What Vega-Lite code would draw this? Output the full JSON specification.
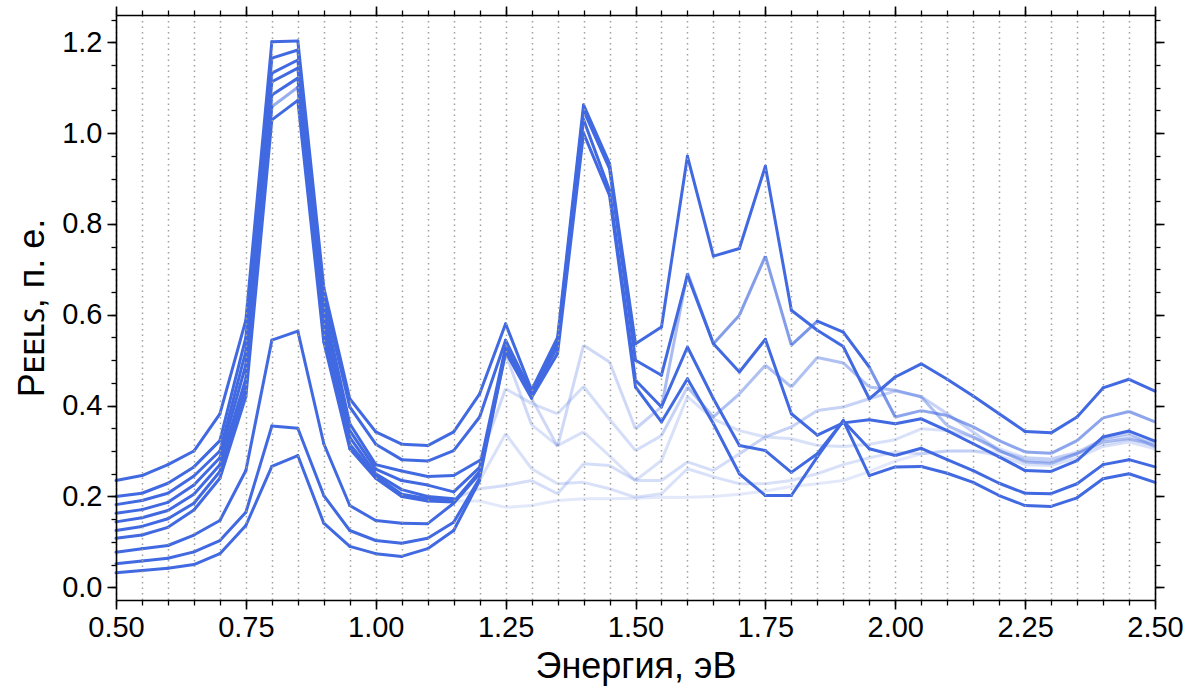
{
 "$schema": "https://vega.github.io/schema/vega-lite/v6.json",
 "width": 1039, "height": 585,
 "autosize": {"type": "none"},
 "padding": {"left": 116, "top": 15, "right": 44, "bottom": 91},
 "background": "white",
 "config": {"view": {"stroke": null}, "font": "Arial, Liberation Sans, sans-serif", "axis": {"labelFont": "Arial, Liberation Sans, sans-serif", "titleFont": "Arial, Liberation Sans, sans-serif"}},
 "data": {"values": [
{"s":"A","e":0.5,"p":0.235,"w":1},{"s":"A","e":0.55,"p":0.246,"w":1},{"s":"A","e":0.6,"p":0.27,"w":1},{"s":"A","e":0.65,"p":0.3,"w":1},{"s":"A","e":0.7,"p":0.382,"w":1},{"s":"A","e":0.75,"p":0.588,"w":1},{"s":"A","e":0.8,"p":1.201,"w":1},{"s":"A","e":0.85,"p":1.203,"w":1},{"s":"A","e":0.9,"p":0.66,"w":1},{"s":"A","e":0.95,"p":0.415,"w":1},{"s":"A","e":1,"p":0.342,"w":1},{"s":"A","e":1.05,"p":0.315,"w":1},{"s":"A","e":1.1,"p":0.312,"w":1},{"s":"A","e":1.15,"p":0.342,"w":1},{"s":"A","e":1.2,"p":0.426,"w":1},{"s":"A","e":1.25,"p":0.58,"w":1},{"s":"A","e":1.3,"p":0.434,"w":1},{"s":"A","e":1.35,"p":0.55,"w":1},{"s":"A","e":1.4,"p":1.062,"w":1},{"s":"A","e":1.45,"p":0.933,"w":1},{"s":"A","e":1.5,"p":0.536,"w":1},{"s":"A","e":1.55,"p":0.573,"w":1},{"s":"A","e":1.6,"p":0.949,"w":1},{"s":"A","e":1.65,"p":0.729,"w":1},{"s":"A","e":1.7,"p":0.746,"w":1},{"s":"A","e":1.75,"p":0.927,"w":1},{"s":"A","e":1.8,"p":0.61,"w":1},{"s":"A","e":1.85,"p":0.566,"w":1},{"s":"A","e":1.9,"p":0.53,"w":1},{"s":"A","e":1.95,"p":0.415,"w":1},{"s":"A","e":2,"p":0.463,"w":1},{"s":"A","e":2.05,"p":0.492,"w":1},{"s":"A","e":2.1,"p":0.458,"w":1},{"s":"A","e":2.15,"p":0.421,"w":1},{"s":"A","e":2.2,"p":0.382,"w":1},{"s":"A","e":2.25,"p":0.343,"w":1},{"s":"A","e":2.3,"p":0.34,"w":1},{"s":"A","e":2.35,"p":0.375,"w":1},{"s":"A","e":2.4,"p":0.439,"w":1},{"s":"A","e":2.45,"p":0.458,"w":1},{"s":"A","e":2.5,"p":0.432,"w":1},
{"s":"B","e":0.5,"p":0.2,"w":1},{"s":"B","e":0.55,"p":0.207,"w":1},{"s":"B","e":0.6,"p":0.229,"w":1},{"s":"B","e":0.65,"p":0.265,"w":1},{"s":"B","e":0.7,"p":0.323,"w":1},{"s":"B","e":0.75,"p":0.55,"w":1},{"s":"B","e":0.8,"p":1.165,"w":1},{"s":"B","e":0.85,"p":1.183,"w":1},{"s":"B","e":0.9,"p":0.64,"w":1},{"s":"B","e":0.95,"p":0.397,"w":1},{"s":"B","e":1,"p":0.315,"w":1},{"s":"B","e":1.05,"p":0.281,"w":1},{"s":"B","e":1.1,"p":0.278,"w":1},{"s":"B","e":1.15,"p":0.301,"w":1},{"s":"B","e":1.2,"p":0.375,"w":1},{"s":"B","e":1.25,"p":0.544,"w":1},{"s":"B","e":1.3,"p":0.428,"w":1},{"s":"B","e":1.35,"p":0.54,"w":1},{"s":"B","e":1.4,"p":1.05,"w":1},{"s":"B","e":1.45,"p":0.922,"w":1},{"s":"B","e":1.5,"p":0.5,"w":1},{"s":"B","e":1.55,"p":0.467,"w":1},{"s":"B","e":1.6,"p":0.687,"w":1},{"s":"B","e":1.65,"p":0.536,"w":1},{"s":"B","e":1.7,"p":0.474,"w":1},{"s":"B","e":1.75,"p":0.546,"w":1},{"s":"B","e":1.8,"p":0.382,"w":1},{"s":"B","e":1.85,"p":0.335,"w":1},{"s":"B","e":1.9,"p":0.362,"w":1},{"s":"B","e":1.95,"p":0.369,"w":1},{"s":"B","e":2,"p":0.36,"w":1},{"s":"B","e":2.05,"p":0.371,"w":1},{"s":"B","e":2.1,"p":0.345,"w":1},{"s":"B","e":2.15,"p":0.316,"w":1},{"s":"B","e":2.2,"p":0.287,"w":1},{"s":"B","e":2.25,"p":0.257,"w":1},{"s":"B","e":2.3,"p":0.255,"w":1},{"s":"B","e":2.35,"p":0.279,"w":1},{"s":"B","e":2.4,"p":0.331,"w":1},{"s":"B","e":2.45,"p":0.344,"w":1},{"s":"B","e":2.5,"p":0.322,"w":1},
{"s":"C","e":0.5,"p":0.163,"w":1},{"s":"C","e":0.55,"p":0.171,"w":1},{"s":"C","e":0.6,"p":0.187,"w":1},{"s":"C","e":0.65,"p":0.225,"w":1},{"s":"C","e":0.7,"p":0.285,"w":1},{"s":"C","e":0.75,"p":0.49,"w":1},{"s":"C","e":0.8,"p":1.113,"w":1},{"s":"C","e":0.85,"p":1.143,"w":1},{"s":"C","e":0.9,"p":0.6,"w":1},{"s":"C","e":0.95,"p":0.345,"w":1},{"s":"C","e":1,"p":0.26,"w":1},{"s":"C","e":1.05,"p":0.235,"w":1},{"s":"C","e":1.1,"p":0.225,"w":1},{"s":"C","e":1.15,"p":0.21,"w":1},{"s":"C","e":1.2,"p":0.264,"w":1},{"s":"C","e":1.25,"p":0.53,"w":1},{"s":"C","e":1.3,"p":0.422,"w":1},{"s":"C","e":1.35,"p":0.53,"w":1},{"s":"C","e":1.4,"p":1.03,"w":1},{"s":"C","e":1.45,"p":0.874,"w":1},{"s":"C","e":1.5,"p":0.456,"w":1},{"s":"C","e":1.55,"p":0.397,"w":1},{"s":"C","e":1.6,"p":0.529,"w":1},{"s":"C","e":1.65,"p":0.415,"w":1},{"s":"C","e":1.7,"p":0.312,"w":1},{"s":"C","e":1.75,"p":0.301,"w":1},{"s":"C","e":1.8,"p":0.253,"w":1},{"s":"C","e":1.85,"p":0.294,"w":1},{"s":"C","e":1.9,"p":0.366,"w":1},{"s":"C","e":1.95,"p":0.305,"w":1},{"s":"C","e":2,"p":0.29,"w":1},{"s":"C","e":2.05,"p":0.306,"w":1},{"s":"C","e":2.1,"p":0.281,"w":1},{"s":"C","e":2.15,"p":0.257,"w":1},{"s":"C","e":2.2,"p":0.229,"w":1},{"s":"C","e":2.25,"p":0.207,"w":1},{"s":"C","e":2.3,"p":0.206,"w":1},{"s":"C","e":2.35,"p":0.228,"w":1},{"s":"C","e":2.4,"p":0.27,"w":1},{"s":"C","e":2.45,"p":0.281,"w":1},{"s":"C","e":2.5,"p":0.265,"w":1},
{"s":"D","e":0.5,"p":0.077,"w":1},{"s":"D","e":0.55,"p":0.085,"w":1},{"s":"D","e":0.6,"p":0.092,"w":1},{"s":"D","e":0.65,"p":0.115,"w":1},{"s":"D","e":0.7,"p":0.147,"w":1},{"s":"D","e":0.75,"p":0.257,"w":1},{"s":"D","e":0.8,"p":0.544,"w":1},{"s":"D","e":0.85,"p":0.564,"w":1},{"s":"D","e":0.9,"p":0.316,"w":1},{"s":"D","e":0.95,"p":0.18,"w":1},{"s":"D","e":1,"p":0.147,"w":1},{"s":"D","e":1.05,"p":0.141,"w":1},{"s":"D","e":1.1,"p":0.14,"w":1},{"s":"D","e":1.15,"p":0.185,"w":1},{"s":"D","e":1.2,"p":0.25,"w":1},{"s":"D","e":1.25,"p":0.52,"w":1},{"s":"D","e":1.3,"p":0.418,"w":1},{"s":"D","e":1.35,"p":0.515,"w":1},{"s":"D","e":1.4,"p":1.0,"w":1},{"s":"D","e":1.45,"p":0.863,"w":1},{"s":"D","e":1.5,"p":0.441,"w":1},{"s":"D","e":1.55,"p":0.364,"w":1},{"s":"D","e":1.6,"p":0.459,"w":1},{"s":"D","e":1.65,"p":0.36,"w":1},{"s":"D","e":1.7,"p":0.25,"w":1},{"s":"D","e":1.75,"p":0.202,"w":1},{"s":"D","e":1.8,"p":0.202,"w":1},{"s":"D","e":1.85,"p":0.287,"w":1},{"s":"D","e":1.9,"p":0.367,"w":1},{"s":"D","e":1.95,"p":0.246,"w":1},{"s":"D","e":2,"p":0.265,"w":1},{"s":"D","e":2.05,"p":0.266,"w":1},{"s":"D","e":2.1,"p":0.251,"w":1},{"s":"D","e":2.15,"p":0.231,"w":1},{"s":"D","e":2.2,"p":0.202,"w":1},{"s":"D","e":2.25,"p":0.18,"w":1},{"s":"D","e":2.3,"p":0.178,"w":1},{"s":"D","e":2.35,"p":0.197,"w":1},{"s":"D","e":2.4,"p":0.239,"w":1},{"s":"D","e":2.45,"p":0.25,"w":1},{"s":"D","e":2.5,"p":0.231,"w":1},
{"s":"E","e":0.5,"p":0.052,"w":1},{"s":"E","e":0.55,"p":0.058,"w":1},{"s":"E","e":0.6,"p":0.064,"w":1},{"s":"E","e":0.65,"p":0.078,"w":1},{"s":"E","e":0.7,"p":0.103,"w":1},{"s":"E","e":0.75,"p":0.165,"w":1},{"s":"E","e":0.8,"p":0.355,"w":1},{"s":"E","e":0.85,"p":0.35,"w":1},{"s":"E","e":0.9,"p":0.202,"w":1},{"s":"E","e":0.95,"p":0.125,"w":1},{"s":"E","e":1,"p":0.103,"w":1},{"s":"E","e":1.05,"p":0.097,"w":1},{"s":"E","e":1.1,"p":0.108,"w":1},{"s":"E","e":1.15,"p":0.143,"w":1},{"s":"E","e":1.2,"p":0.24,"w":1},{"s":"E","e":1.25,"p":0.518,"w":1},{"s":"E","e":1.3,"p":0.416,"w":0.25},{"s":"E","e":1.35,"p":0.31,"w":0.25},{"s":"E","e":1.4,"p":0.533,"w":0.25},{"s":"E","e":1.45,"p":0.496,"w":0.25},{"s":"E","e":1.5,"p":0.349,"w":0.3},{"s":"E","e":1.55,"p":0.397,"w":0.45},{"s":"E","e":1.6,"p":0.692,"w":0.65},{"s":"E","e":1.65,"p":0.536,"w":0.65},{"s":"E","e":1.7,"p":0.599,"w":0.65},{"s":"E","e":1.75,"p":0.729,"w":0.65},{"s":"E","e":1.8,"p":0.533,"w":0.7},{"s":"E","e":1.85,"p":0.586,"w":1},{"s":"E","e":1.9,"p":0.562,"w":1},{"s":"E","e":1.95,"p":0.485,"w":0.7},{"s":"E","e":2,"p":0.375,"w":0.6},{"s":"E","e":2.05,"p":0.389,"w":0.6},{"s":"E","e":2.1,"p":0.378,"w":0.6},{"s":"E","e":2.15,"p":0.353,"w":0.6},{"s":"E","e":2.2,"p":0.323,"w":0.6},{"s":"E","e":2.25,"p":0.298,"w":0.6},{"s":"E","e":2.3,"p":0.295,"w":0.6},{"s":"E","e":2.35,"p":0.323,"w":0.6},{"s":"E","e":2.4,"p":0.373,"w":0.6},{"s":"E","e":2.45,"p":0.387,"w":0.6},{"s":"E","e":2.5,"p":0.364,"w":0.6},
{"s":"F","e":0.5,"p":0.182,"w":1},{"s":"F","e":0.55,"p":0.191,"w":1},{"s":"F","e":0.6,"p":0.207,"w":1},{"s":"F","e":0.65,"p":0.245,"w":1},{"s":"F","e":0.7,"p":0.3,"w":1},{"s":"F","e":0.75,"p":0.52,"w":1},{"s":"F","e":0.8,"p":1.132,"w":1},{"s":"F","e":0.85,"p":1.161,"w":1},{"s":"F","e":0.9,"p":0.62,"w":1},{"s":"F","e":0.95,"p":0.36,"w":1},{"s":"F","e":1,"p":0.27,"w":1},{"s":"F","e":1.05,"p":0.256,"w":1},{"s":"F","e":1.1,"p":0.244,"w":1},{"s":"F","e":1.15,"p":0.246,"w":1},{"s":"F","e":1.2,"p":0.279,"w":0.25},{"s":"F","e":1.25,"p":0.437,"w":0.22},{"s":"F","e":1.3,"p":0.405,"w":0.22},{"s":"F","e":1.35,"p":0.382,"w":0.22},{"s":"F","e":1.4,"p":0.442,"w":0.22},{"s":"F","e":1.45,"p":0.37,"w":0.22},{"s":"F","e":1.5,"p":0.301,"w":0.22},{"s":"F","e":1.55,"p":0.334,"w":0.3},{"s":"F","e":1.6,"p":0.441,"w":0.42},{"s":"F","e":1.65,"p":0.375,"w":0.42},{"s":"F","e":1.7,"p":0.426,"w":0.42},{"s":"F","e":1.75,"p":0.489,"w":0.42},{"s":"F","e":1.8,"p":0.441,"w":0.42},{"s":"F","e":1.85,"p":0.506,"w":0.42},{"s":"F","e":1.9,"p":0.494,"w":0.42},{"s":"F","e":1.95,"p":0.441,"w":0.42},{"s":"F","e":2,"p":0.434,"w":0.42},{"s":"F","e":2.05,"p":0.419,"w":0.42},{"s":"F","e":2.1,"p":0.356,"w":0.42},{"s":"F","e":2.15,"p":0.331,"w":0.42},{"s":"F","e":2.2,"p":0.301,"w":0.42},{"s":"F","e":2.25,"p":0.276,"w":0.42},{"s":"F","e":2.3,"p":0.273,"w":0.42},{"s":"F","e":2.35,"p":0.294,"w":0.42},{"s":"F","e":2.4,"p":0.32,"w":0.42},{"s":"F","e":2.45,"p":0.327,"w":0.42},{"s":"F","e":2.5,"p":0.312,"w":0.42},
{"s":"G","e":0.5,"p":0.108,"w":1},{"s":"G","e":0.55,"p":0.115,"w":1},{"s":"G","e":0.6,"p":0.132,"w":1},{"s":"G","e":0.65,"p":0.17,"w":1},{"s":"G","e":0.7,"p":0.24,"w":1},{"s":"G","e":0.75,"p":0.42,"w":1},{"s":"G","e":0.8,"p":1.029,"w":1},{"s":"G","e":0.85,"p":1.072,"w":1},{"s":"G","e":0.9,"p":0.54,"w":1},{"s":"G","e":0.95,"p":0.305,"w":1},{"s":"G","e":1,"p":0.24,"w":1},{"s":"G","e":1.05,"p":0.2,"w":1},{"s":"G","e":1.1,"p":0.19,"w":1},{"s":"G","e":1.15,"p":0.188,"w":1},{"s":"G","e":1.2,"p":0.255,"w":0.4},{"s":"G","e":1.25,"p":0.514,"w":0.25},{"s":"G","e":1.3,"p":0.358,"w":0.2},{"s":"G","e":1.35,"p":0.312,"w":0.2},{"s":"G","e":1.4,"p":0.342,"w":0.2},{"s":"G","e":1.45,"p":0.289,"w":0.2},{"s":"G","e":1.5,"p":0.235,"w":0.2},{"s":"G","e":1.55,"p":0.279,"w":0.2},{"s":"G","e":1.6,"p":0.42,"w":0.2},{"s":"G","e":1.65,"p":0.37,"w":0.2},{"s":"G","e":1.7,"p":0.345,"w":0.2},{"s":"G","e":1.75,"p":0.331,"w":0.2},{"s":"G","e":1.8,"p":0.327,"w":0.2},{"s":"G","e":1.85,"p":0.312,"w":0.2},{"s":"G","e":1.9,"p":0.31,"w":0.2},{"s":"G","e":1.95,"p":0.315,"w":0.2},{"s":"G","e":2,"p":0.325,"w":0.2},{"s":"G","e":2.05,"p":0.349,"w":0.2},{"s":"G","e":2.1,"p":0.345,"w":0.2},{"s":"G","e":2.15,"p":0.33,"w":0.2},{"s":"G","e":2.2,"p":0.305,"w":0.2},{"s":"G","e":2.25,"p":0.285,"w":0.2},{"s":"G","e":2.3,"p":0.282,"w":0.2},{"s":"G","e":2.35,"p":0.298,"w":0.2},{"s":"G","e":2.4,"p":0.325,"w":0.2},{"s":"G","e":2.45,"p":0.333,"w":0.2},{"s":"G","e":2.5,"p":0.318,"w":0.2},
{"s":"H","e":0.5,"p":0.032,"w":1},{"s":"H","e":0.55,"p":0.037,"w":1},{"s":"H","e":0.6,"p":0.042,"w":1},{"s":"H","e":0.65,"p":0.05,"w":1},{"s":"H","e":0.7,"p":0.074,"w":1},{"s":"H","e":0.75,"p":0.136,"w":1},{"s":"H","e":0.8,"p":0.266,"w":1},{"s":"H","e":0.85,"p":0.29,"w":1},{"s":"H","e":0.9,"p":0.141,"w":1},{"s":"H","e":0.95,"p":0.09,"w":1},{"s":"H","e":1,"p":0.074,"w":1},{"s":"H","e":1.05,"p":0.068,"w":1},{"s":"H","e":1.1,"p":0.085,"w":1},{"s":"H","e":1.15,"p":0.125,"w":1},{"s":"H","e":1.2,"p":0.235,"w":0.2},{"s":"H","e":1.25,"p":0.338,"w":0.2},{"s":"H","e":1.3,"p":0.261,"w":0.2},{"s":"H","e":1.35,"p":0.228,"w":0.2},{"s":"H","e":1.4,"p":0.231,"w":0.2},{"s":"H","e":1.45,"p":0.217,"w":0.2},{"s":"H","e":1.5,"p":0.198,"w":0.2},{"s":"H","e":1.55,"p":0.206,"w":0.2},{"s":"H","e":1.6,"p":0.261,"w":0.2},{"s":"H","e":1.65,"p":0.243,"w":0.2},{"s":"H","e":1.7,"p":0.228,"w":0.2},{"s":"H","e":1.75,"p":0.228,"w":0.2},{"s":"H","e":1.8,"p":0.235,"w":0.2},{"s":"H","e":1.85,"p":0.25,"w":0.2},{"s":"H","e":1.9,"p":0.27,"w":0.2},{"s":"H","e":1.95,"p":0.285,"w":0.2},{"s":"H","e":2,"p":0.298,"w":0.2},{"s":"H","e":2.05,"p":0.294,"w":0.2},{"s":"H","e":2.1,"p":0.3,"w":0.2},{"s":"H","e":2.15,"p":0.3,"w":0.2},{"s":"H","e":2.2,"p":0.29,"w":0.2},{"s":"H","e":2.25,"p":0.27,"w":0.2},{"s":"H","e":2.3,"p":0.268,"w":0.2},{"s":"H","e":2.35,"p":0.285,"w":0.2},{"s":"H","e":2.4,"p":0.31,"w":0.2},{"s":"H","e":2.45,"p":0.32,"w":0.2},{"s":"H","e":2.5,"p":0.305,"w":0.2},
{"s":"I","e":0.5,"p":0.144,"w":1},{"s":"I","e":0.55,"p":0.153,"w":1},{"s":"I","e":0.6,"p":0.169,"w":1},{"s":"I","e":0.65,"p":0.205,"w":1},{"s":"I","e":0.7,"p":0.27,"w":1},{"s":"I","e":0.75,"p":0.46,"w":1},{"s":"I","e":0.8,"p":1.084,"w":1},{"s":"I","e":0.85,"p":1.121,"w":1},{"s":"I","e":0.9,"p":0.58,"w":1},{"s":"I","e":0.95,"p":0.33,"w":1},{"s":"I","e":1,"p":0.25,"w":1},{"s":"I","e":1.05,"p":0.215,"w":1},{"s":"I","e":1.1,"p":0.2,"w":1},{"s":"I","e":1.15,"p":0.195,"w":0.22},{"s":"I","e":1.2,"p":0.217,"w":0.22},{"s":"I","e":1.25,"p":0.224,"w":0.22},{"s":"I","e":1.3,"p":0.235,"w":0.22},{"s":"I","e":1.35,"p":0.206,"w":0.22},{"s":"I","e":1.4,"p":0.272,"w":0.22},{"s":"I","e":1.45,"p":0.268,"w":0.22},{"s":"I","e":1.5,"p":0.235,"w":0.22},{"s":"I","e":1.55,"p":0.235,"w":0.22},{"s":"I","e":1.6,"p":0.276,"w":0.22},{"s":"I","e":1.65,"p":0.257,"w":0.22},{"s":"I","e":1.7,"p":0.294,"w":0.3},{"s":"I","e":1.75,"p":0.331,"w":0.3},{"s":"I","e":1.8,"p":0.353,"w":0.3},{"s":"I","e":1.85,"p":0.389,"w":0.3},{"s":"I","e":1.9,"p":0.397,"w":0.3},{"s":"I","e":1.95,"p":0.415,"w":0.3},{"s":"I","e":2,"p":0.432,"w":0.3},{"s":"I","e":2.05,"p":0.42,"w":0.3},{"s":"I","e":2.1,"p":0.382,"w":0.3},{"s":"I","e":2.15,"p":0.342,"w":0.3},{"s":"I","e":2.2,"p":0.301,"w":0.3},{"s":"I","e":2.25,"p":0.279,"w":0.3},{"s":"I","e":2.3,"p":0.276,"w":0.3},{"s":"I","e":2.35,"p":0.294,"w":0.3},{"s":"I","e":2.4,"p":0.327,"w":0.3},{"s":"I","e":2.45,"p":0.338,"w":0.3},{"s":"I","e":2.5,"p":0.309,"w":0.3},
{"s":"J","e":0.5,"p":0.125,"w":1},{"s":"J","e":0.55,"p":0.134,"w":1},{"s":"J","e":0.6,"p":0.151,"w":1},{"s":"J","e":0.65,"p":0.185,"w":1},{"s":"J","e":0.7,"p":0.255,"w":1},{"s":"J","e":0.75,"p":0.44,"w":1},{"s":"J","e":0.8,"p":1.058,"w":0.55},{"s":"J","e":0.85,"p":1.101,"w":1},{"s":"J","e":0.9,"p":0.56,"w":1},{"s":"J","e":0.95,"p":0.315,"w":1},{"s":"J","e":1,"p":0.245,"w":1},{"s":"J","e":1.05,"p":0.205,"w":1},{"s":"J","e":1.1,"p":0.195,"w":1},{"s":"J","e":1.15,"p":0.19,"w":0.15},{"s":"J","e":1.2,"p":0.19,"w":0.15},{"s":"J","e":1.25,"p":0.176,"w":0.15},{"s":"J","e":1.3,"p":0.18,"w":0.15},{"s":"J","e":1.35,"p":0.191,"w":0.15},{"s":"J","e":1.4,"p":0.195,"w":0.15},{"s":"J","e":1.45,"p":0.195,"w":0.15},{"s":"J","e":1.5,"p":0.196,"w":0.15},{"s":"J","e":1.55,"p":0.198,"w":0.15},{"s":"J","e":1.6,"p":0.198,"w":0.15},{"s":"J","e":1.65,"p":0.2,"w":0.15},{"s":"J","e":1.7,"p":0.205,"w":0.15},{"s":"J","e":1.75,"p":0.212,"w":0.15},{"s":"J","e":1.8,"p":0.222,"w":0.15},{"s":"J","e":1.85,"p":0.228,"w":0.15},{"s":"J","e":1.9,"p":0.235,"w":0.15},{"s":"J","e":1.95,"p":0.255,"w":0.15},{"s":"J","e":2,"p":0.278,"w":0.15},{"s":"J","e":2.05,"p":0.294,"w":0.15},{"s":"J","e":2.1,"p":0.3,"w":0.15},{"s":"J","e":2.15,"p":0.3,"w":0.15},{"s":"J","e":2.2,"p":0.298,"w":0.15},{"s":"J","e":2.25,"p":0.285,"w":0.15},{"s":"J","e":2.3,"p":0.283,"w":0.15},{"s":"J","e":2.35,"p":0.295,"w":0.15},{"s":"J","e":2.4,"p":0.315,"w":0.15},{"s":"J","e":2.45,"p":0.325,"w":0.15},{"s":"J","e":2.5,"p":0.318,"w":0.15}
 ]},
 "transform": [
  {"window": [{"op": "lead", "field": "e", "as": "e2"}, {"op": "lead", "field": "p", "as": "p2"}], "groupby": ["s"], "sort": [{"field": "e", "order": "ascending"}]}
 ],
 "layer": [
  {
   "transform": [{"filter": "datum.e2 != null && datum.w < 1"}],
   "mark": {"type": "rule", "strokeWidth": 3, "color": "#4169e1", "strokeCap": "butt"},
   "encoding": {
    "x": {"field": "e", "type": "quantitative", "scale": {"domain": [0.5, 2.5], "nice": false, "zero": false},
      "axis": {"orient": "bottom", "values": [0.5, 0.75, 1, 1.25, 1.5, 1.75, 2, 2.25, 2.5], "format": ".2f", "grid": false, "tickSize": 9, "tickWidth": 1.6, "tickColor": "black", "domain": true, "domainColor": "black", "domainWidth": 1.6, "labelFontSize": 29, "labelColor": "black", "labelPadding": 4, "labelFlush": false, "labelOverlap": false, "labelBound": false, "title": "Энергия, эВ", "titleFontSize": 36, "titleFontWeight": "normal", "titleColor": "black", "titlePadding": 7, "zindex": 2}},
    "x2": {"field": "e2"},
    "y": {"field": "p", "type": "quantitative", "scale": {"domain": [-0.028, 1.26], "nice": false, "zero": false},
      "axis": {"orient": "left", "values": [0, 0.2, 0.4, 0.6, 0.8, 1.0, 1.2], "format": ".1f", "grid": false, "tickSize": 9, "tickWidth": 1.6, "tickColor": "black", "domain": true, "domainColor": "black", "domainWidth": 1.6, "labelFontSize": 29, "labelColor": "black", "labelPadding": 5, "labelFlush": false, "labelOverlap": false, "labelBound": false, "title": "Pᴇᴇʟꜱ, п. е.", "titleFontSize": 36, "titleFontWeight": "normal", "titleColor": "black", "titlePadding": 10, "zindex": 2}},
    "y2": {"field": "p2"},
    "opacity": {"field": "w", "type": "quantitative", "scale": {"domain": [0, 1], "range": [0, 1]}, "legend": null}
   }
  },
  {
   "transform": [{"filter": "datum.e2 != null && datum.w >= 1"}],
   "mark": {"type": "rule", "strokeWidth": 3, "color": "#4169e1", "strokeCap": "round"},
   "encoding": {
    "x": {"field": "e", "type": "quantitative", "axis": null},
    "x2": {"field": "e2"},
    "y": {"field": "p", "type": "quantitative", "axis": null},
    "y2": {"field": "p2"}
   }
  },
  {
   "mark": {"type": "point", "opacity": 0},
   "encoding": {
    "x": {"field": "e", "type": "quantitative", "axis": {"orient": "bottom", "values": [0.5,0.55,0.6,0.65,0.7,0.75,0.8,0.85,0.9,0.95,1,1.05,1.1,1.15,1.2,1.25,1.3,1.35,1.4,1.45,1.5,1.55,1.6,1.65,1.7,1.75,1.8,1.85,1.9,1.95,2,2.05,2.1,2.15,2.2,2.25,2.3,2.35,2.4,2.45,2.5], "labels": false, "domain": false, "tickSize": 5, "tickWidth": 1.3, "tickColor": "black", "grid": true, "gridColor": "#a0a0a0", "gridWidth": 1.5, "gridDash": [1.5, 4], "title": null, "zindex": 1}},
    "y": {"field": "p", "type": "quantitative", "axis": {"orient": "left", "values": [0,0.05,0.1,0.15,0.2,0.25,0.3,0.35,0.4,0.45,0.5,0.55,0.6,0.65,0.7,0.75,0.8,0.85,0.9,0.95,1,1.05,1.1,1.15,1.2,1.25], "labels": false, "domain": false, "tickSize": 5, "tickWidth": 1.3, "tickColor": "black", "grid": false, "title": null}}
   }
  },
  {
   "mark": {"type": "point", "opacity": 0},
   "encoding": {
    "x": {"field": "e", "type": "quantitative", "axis": {"orient": "top", "values": [0.5, 0.75, 1, 1.25, 1.5, 1.75, 2, 2.25, 2.5], "labels": false, "domain": true, "domainColor": "black", "domainWidth": 1.6, "tickSize": 9, "tickWidth": 1.6, "tickColor": "black", "grid": false, "title": null, "zindex": 2}},
    "y": {"field": "p", "type": "quantitative", "axis": {"orient": "right", "values": [0, 0.2, 0.4, 0.6, 0.8, 1.0, 1.2], "labels": false, "domain": true, "domainColor": "black", "domainWidth": 1.6, "tickSize": 9, "tickWidth": 1.6, "tickColor": "black", "grid": false, "title": null, "zindex": 2}}
   }
  },
  {
   "mark": {"type": "point", "opacity": 0},
   "encoding": {
    "x": {"field": "e", "type": "quantitative", "axis": {"orient": "top", "values": [0.5,0.55,0.6,0.65,0.7,0.75,0.8,0.85,0.9,0.95,1,1.05,1.1,1.15,1.2,1.25,1.3,1.35,1.4,1.45,1.5,1.55,1.6,1.65,1.7,1.75,1.8,1.85,1.9,1.95,2,2.05,2.1,2.15,2.2,2.25,2.3,2.35,2.4,2.45,2.5], "labels": false, "domain": false, "tickSize": 5, "tickWidth": 1.3, "tickColor": "black", "grid": false, "title": null}},
    "y": {"field": "p", "type": "quantitative", "axis": {"orient": "right", "values": [0,0.05,0.1,0.15,0.2,0.25,0.3,0.35,0.4,0.45,0.5,0.55,0.6,0.65,0.7,0.75,0.8,0.85,0.9,0.95,1,1.05,1.1,1.15,1.2,1.25], "labels": false, "domain": false, "tickSize": 5, "tickWidth": 1.3, "tickColor": "black", "grid": false, "title": null}}
   }
  }
 ],
 "resolve": {"axis": {"x": "independent", "y": "independent"}}
}
